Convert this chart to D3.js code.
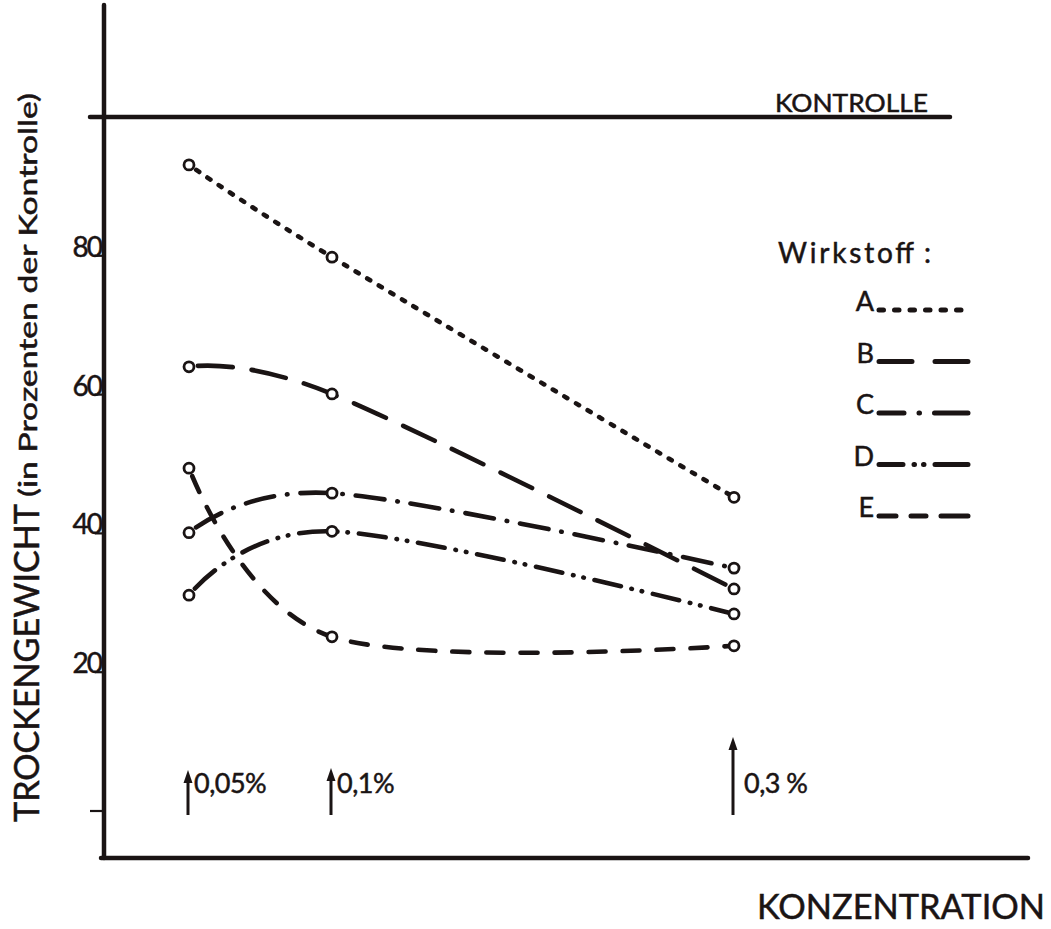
<!DOCTYPE html>
<html>
<head>
<meta charset="utf-8">
<script src="https://cdn.jsdelivr.net/npm/d3@7"></script>
<style>
  html, body { margin: 0; padding: 0; background: #fff; }
  svg { display: block; }
  text { font-family: "Lato", "Noto Sans", sans-serif; fill: #1a1414; stroke: #1a1414; stroke-width: 0.5; }
</style>
</head>
<body>
<svg id="chart" width="1051" height="929"></svg>
<script>
// ---- data ----
const concentrations = [0.05, 0.1, 0.3];
const concentrationLabels = ["0,05%", "0,1%", "0,3 %"];
const seriesNames = ["A", "B", "C", "D", "E"];
const valuesA = [93.1, 79.8, 45.2];
const valuesB = [64.0, 60.1, 32.0];
const valuesC = [40.1, 45.8, 35.0];
const valuesD = [31.1, 40.3, 28.4];
const valuesE = [49.4, 25.1, 23.8];
const yTicks = [0, 20, 40, 60, 80];
const yTickLabels = ["", "20", "40", "60", "80"];
const controlValue = 100;

const seriesValues = [valuesA, valuesB, valuesC, valuesD, valuesE];
const dashes = {
  A: "3.5,10",
  B: "35,19",
  C: "29,13,0.5,13",
  D: "27,11,0.5,10,0.5,11",
  E: "17,17"
};
const legendDashes = {
  A: "4.5,11",
  B: "33,23,40",
  C: "25,15,0.5,15,40",
  D: "24,11,0.5,9,0.5,11,40",
  E: "17,15,15,15,30"
};

const ink = "#1a1414";
const svg = d3.select("#chart");

const x = d3.scaleLinear().domain(concentrations).range([189, 332, 734]);
const y = d3.scaleLinear().domain([0, 100]).range([811, 117]);

// axes
svg.append("line").attr("x1", 104).attr("x2", 104).attr("y1", 5).attr("y2", 858)
  .attr("stroke", ink).attr("stroke-width", 4.5).attr("stroke-linecap", "round");
svg.append("line").attr("x1", 101).attr("x2", 1028).attr("y1", 858).attr("y2", 858)
  .attr("stroke", ink).attr("stroke-width", 4.5).attr("stroke-linecap", "round");
// control line
svg.append("line").attr("x1", 90).attr("x2", 950).attr("y1", y(controlValue)).attr("y2", y(controlValue))
  .attr("stroke", ink).attr("stroke-width", 4.5).attr("stroke-linecap", "round");
svg.append("text").attr("x", 775).attr("y", y(controlValue) - 5)
  .attr("font-size", 25).attr("textLength", 153).attr("lengthAdjust", "spacingAndGlyphs")
  .text("KONTROLLE");

// y ticks
yTicks.forEach((t, i) => {
  svg.append("line").attr("x1", t === 0 ? 90 : 95).attr("x2", 104)
    .attr("y1", y(t)).attr("y2", y(t)).attr("stroke", ink).attr("stroke-width", 2.2);
  if (yTickLabels[i]) {
    svg.append("text").attr("x", 101).attr("y", y(t) + 1).attr("text-anchor", "end")
      .attr("font-size", 28).attr("letter-spacing", -2).text(yTickLabels[i]);
  }
});

// y axis title
svg.append("text").attr("transform", "translate(39,822) rotate(-90)")
  .attr("font-size", 34).attr("textLength", 318).attr("lengthAdjust", "spacingAndGlyphs")
  .text("TROCKENGEWICHT");
svg.append("text").attr("transform", "translate(37,497) rotate(-90)")
  .attr("font-size", 25).attr("textLength", 404).attr("lengthAdjust", "spacingAndGlyphs")
  .text("(in Prozenten der Kontrolle)");

// x axis title
svg.append("text").attr("x", 757).attr("y", 919).attr("font-size", 34)
  .attr("textLength", 288).attr("lengthAdjust", "spacingAndGlyphs")
  .text("KONZENTRATION");

// arrows
const arrowTops = [770, 768, 737];
concentrations.forEach((c, i) => {
  const ax = x(c) - 1;
  svg.append("line").attr("x1", ax).attr("x2", ax)
    .attr("y1", 815).attr("y2", arrowTops[i] + 8)
    .attr("stroke", ink).attr("stroke-width", 3);
  svg.append("path")
    .attr("d", `M${ax - 4.5},${arrowTops[i] + 13} L${ax},${arrowTops[i]} L${ax + 4.5},${arrowTops[i] + 13} Z`)
    .attr("fill", ink);
  svg.append("text").attr("x", x(c) + (i === 2 ? 10 : 5)).attr("y", 793)
    .attr("font-size", 27).attr("letter-spacing", -0.5).text(concentrationLabels[i]);
});

// series
const line = d3.line().x((d, i) => x(concentrations[i])).y(d => y(d)).curve(d3.curveCardinal.tension(0));
seriesNames.forEach((name, si) => {
  const vals = seriesValues[si];
  svg.append("path").attr("d", line(vals))
    .attr("fill", "none").attr("stroke", ink).attr("stroke-width", 4.6)
    .attr("stroke-linecap", "round").attr("stroke-dasharray", dashes[name])
    .attr("stroke-dashoffset", -9);
  svg.selectAll(null).data(vals).enter().append("circle")
    .attr("cx", (d, i) => x(concentrations[i])).attr("cy", d => y(d)).attr("r", 5)
    .attr("fill", "#fff").attr("stroke", ink).attr("stroke-width", 2.8);
});

// legend
svg.append("text").attr("x", 778).attr("y", 263).attr("font-size", 28)
  .attr("textLength", 136).attr("lengthAdjust", "spacing").attr("stroke-width", 0.2)
  .text("Wirkstoff");
svg.append("text").attr("x", 924).attr("y", 263).attr("font-size", 28).text(":");
const legendY = d3.scalePoint().domain(seriesNames).range([310, 516]);
seriesNames.forEach(name => {
  const ly = legendY(name);
  svg.append("text").attr("x", 874).attr("y", ly + 1).attr("text-anchor", "end")
    .attr("font-size", 27).text(name);
  svg.append("line").attr("x1", 879).attr("x2", 968).attr("y1", ly).attr("y2", ly)
    .attr("stroke", ink).attr("stroke-width", 5).attr("stroke-linecap", "round")
    .attr("stroke-dasharray", legendDashes[name]);
});
</script>
</body>
</html>
